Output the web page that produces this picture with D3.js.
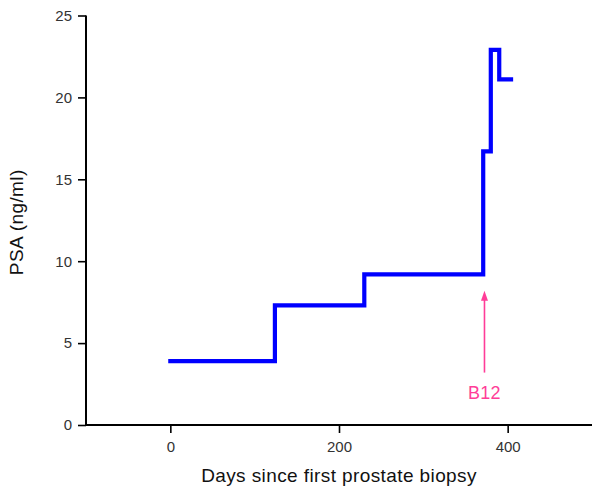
<!DOCTYPE html>
<html><head><meta charset="utf-8">
<script src="https://cdn.jsdelivr.net/npm/d3@7"></script>
<style>
body{margin:0;background:#fff;}
text{font-family:"Liberation Sans",Arial,sans-serif;}
</style></head>
<body><svg id="c" width="593" height="491"></svg>
<script>
const days = [0, 124, 230, 371, 380, 390, 404];
const psa = [3.9, 7.3, 9.2, 16.7, 22.9, 21.1, 21.1];
const xTicks = [0, 200, 400];
const xMinor = [-100, 100, 300, 500];
const yTicks = [0, 5, 10, 15, 20, 25];
const yMinor = [2.5, 7.5, 12.5, 17.5, 22.5];
const markerDay = [372.5];
const markerFrom = [3.2];
const markerTo = [8.2];
const markerLabel = ["B12"];

const svg = d3.select("#c");
const x = d3.scaleLinear().domain([-100, 500]).range([86, 592]);
const y = d3.scaleLinear().domain([0, 25]).range([425, 15.5]);

const data = days.map((d, i) => ({d, v: psa[i]}));
svg.append("path").datum(data)
  .attr("d", d3.line().x(p => x(p.d)).y(p => y(p.v)).curve(d3.curveStepAfter))
  .attr("fill", "none").attr("stroke", "#0000ff").attr("stroke-width", 4.2)
  .attr("stroke-linejoin", "miter").attr("stroke-linecap", "square");

// axes
const gx = svg.append("g").attr("transform", `translate(0,${y(0)})`);
gx.call(d3.axisBottom(x).tickValues(xMinor).tickSize(5).tickFormat(""));
gx.call(d3.axisBottom(x).tickValues(xTicks).tickSize(8).tickPadding(8).tickFormat(d3.format("d")));
const gy = svg.append("g").attr("transform", `translate(${x(-100)},0)`);
gy.call(d3.axisLeft(y).tickValues(yMinor).tickSize(5).tickFormat(""));
gy.call(d3.axisLeft(y).tickValues(yTicks).tickSize(8).tickPadding(6).tickFormat(d3.format("d")));
[gx, gy].forEach(g => {
  g.selectAll(".domain").attr("stroke", "#000").attr("stroke-width", 2);
  g.selectAll(".tick line").attr("stroke", "#000").attr("stroke-width", 1.6);
  g.selectAll("text").attr("font-size", 15).attr("fill", "#333").attr("font-family", "Liberation Sans, Arial, sans-serif");
});
gx.selectAll(".domain").attr("d", `M${x(-100)},0H${x(500)}`);
gy.selectAll(".domain").attr("d", `M0,${y(0)}V${y(25)}`);

// titles
svg.append("text").attr("x", 339).attr("y", 482).attr("text-anchor", "middle")
  .attr("font-size", 19).attr("letter-spacing", 0.4).attr("fill", "#111").text("Days since first prostate biopsy");
svg.append("text").attr("transform", `translate(23,${(y(0)+y(25))/2+2}) rotate(-90)`)
  .attr("text-anchor", "middle").attr("font-size", 19).attr("letter-spacing", 0.4).attr("fill", "#111").text("PSA (ng/ml)");

// marker arrow
const pink = "#ff3d98";
markerDay.forEach((d, i) => {
  svg.append("line").attr("x1", x(d)).attr("x2", x(d))
    .attr("y1", y(markerFrom[i])).attr("y2", y(markerTo[i]) + 6)
    .attr("stroke", pink).attr("stroke-width", 1.6);
  svg.append("path").attr("d", `M${x(d)-3.5},${y(markerTo[i])+10}L${x(d)},${y(markerTo[i])}L${x(d)+3.5},${y(markerTo[i])+10}Z`)
    .attr("fill", pink);
  svg.append("text").attr("x", x(d)).attr("y", 399).attr("text-anchor", "middle")
    .attr("font-size", 18).attr("letter-spacing", 0.3).attr("fill", pink).text(markerLabel[i]);
});
</script></body></html>
